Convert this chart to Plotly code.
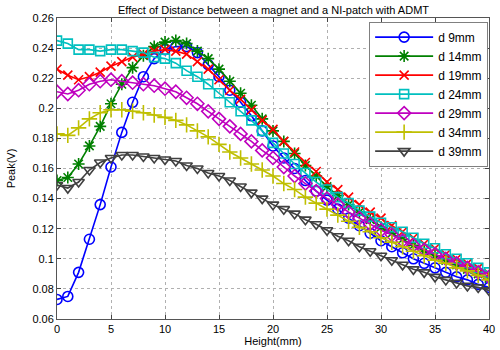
import plotly.graph_objects as go

height_mm = list(range(0, 41))

d9 = [0.073, 0.075, 0.091, 0.113, 0.136, 0.161, 0.184, 0.204, 0.221, 0.233,
      0.239, 0.241, 0.241, 0.237, 0.229, 0.221, 0.212, 0.204, 0.195, 0.185,
      0.175, 0.167, 0.160, 0.152, 0.145, 0.139, 0.133, 0.127, 0.122, 0.117,
      0.112, 0.108, 0.104, 0.100, 0.097, 0.094, 0.091, 0.088, 0.086, 0.083, 0.081]
d14 = [0.152, 0.154, 0.163, 0.175, 0.188, 0.203, 0.216, 0.227, 0.235, 0.241,
       0.244, 0.245, 0.243, 0.238, 0.233, 0.226, 0.218, 0.210, 0.202, 0.193,
       0.185, 0.178, 0.170, 0.162, 0.155, 0.148, 0.142, 0.136, 0.131, 0.126,
       0.121, 0.117, 0.113, 0.109, 0.105, 0.102, 0.099, 0.096, 0.093, 0.090, 0.087]
d19 = [0.226, 0.222, 0.219, 0.221, 0.224, 0.228, 0.231, 0.234, 0.236, 0.238,
       0.239, 0.238, 0.236, 0.231, 0.226, 0.219, 0.212, 0.206, 0.199, 0.192,
       0.186, 0.178, 0.171, 0.164, 0.158, 0.151, 0.146, 0.141, 0.136, 0.131,
       0.127, 0.122, 0.118, 0.114, 0.110, 0.107, 0.103, 0.100, 0.097, 0.094, 0.090]
d24 = [0.245, 0.243, 0.239, 0.239, 0.238, 0.239, 0.239, 0.238, 0.237, 0.234,
       0.233, 0.230, 0.225, 0.221, 0.216, 0.210, 0.204, 0.198, 0.192, 0.185,
       0.177, 0.170, 0.163, 0.157, 0.151, 0.146, 0.141, 0.137, 0.132, 0.128,
       0.124, 0.121, 0.118, 0.114, 0.110, 0.107, 0.103, 0.100, 0.097, 0.094, 0.091]
d29 = [0.211, 0.2095, 0.212, 0.216, 0.218, 0.219, 0.218, 0.217, 0.216, 0.215,
       0.213, 0.211, 0.207, 0.203, 0.198, 0.193, 0.188, 0.183, 0.178, 0.172,
       0.167, 0.161, 0.155, 0.150, 0.145, 0.140, 0.136, 0.131, 0.127, 0.123,
       0.119, 0.116, 0.112, 0.109, 0.106, 0.103, 0.100, 0.097, 0.094, 0.091, 0.088]
d34 = [0.183, 0.182, 0.187, 0.193, 0.197, 0.199, 0.199, 0.198, 0.197, 0.1955,
       0.194, 0.192, 0.189, 0.185, 0.181, 0.176, 0.171, 0.167, 0.163, 0.159,
       0.155, 0.150, 0.146, 0.141, 0.137, 0.133, 0.129, 0.125, 0.121, 0.118,
       0.114, 0.111, 0.108, 0.105, 0.102, 0.099, 0.097, 0.094, 0.092, 0.089, 0.086]
d39 = [0.149, 0.147, 0.151, 0.159, 0.164, 0.167, 0.169, 0.169, 0.168, 0.167,
       0.166, 0.165, 0.162, 0.160, 0.157, 0.155, 0.152, 0.148, 0.144, 0.140,
       0.136, 0.133, 0.130, 0.126, 0.123, 0.119, 0.115, 0.112, 0.108, 0.105,
       0.102, 0.099, 0.096, 0.093, 0.091, 0.088, 0.086, 0.084, 0.082, 0.081, 0.079]

series_names = ["d 9mm", "d 14mm", "d 19mm", "d 24mm", "d 29mm", "d 34mm", "d 39mm"]
series_values = [d9, d14, d19, d24, d29, d34, d39]
colors = ["#0000FF", "#008000", "#FF0000", "#00BFBF", "#BF00BF", "#BFBF00", "#404040"]
symbols = ["circle-open", "asterisk-open", "x-thin-open", "square-open",
           "diamond-open", "cross-thin-open", "triangle-down-open"]
sizes = [10, 10, 9, 9, 10, 11, 10]

x_ticks = [0, 5, 10, 15, 20, 25, 30, 35, 40]
y_ticks = [0.06, 0.08, 0.1, 0.12, 0.14, 0.16, 0.18, 0.2, 0.22, 0.24, 0.26]

fig = go.Figure()
for name, vals, c, s, sz in zip(series_names, series_values, colors, symbols, sizes):
    fig.add_trace(go.Scatter(
        x=height_mm, y=vals, name=name, mode="lines+markers",
        line=dict(color=c, width=1.6),
        marker=dict(symbol=s, size=sz, color=c, line=dict(color=c, width=1.6)),
    ))

font_family = "Liberation Sans, Arial, sans-serif"
fig.update_layout(
    width=500, height=350,
    margin=dict(l=57, r=11, t=18, b=31, autoexpand=False),
    paper_bgcolor="white", plot_bgcolor="white",
    font=dict(family=font_family, size=11, color="black"),
    legend=dict(x=0.998, xanchor="right", y=0.988, yanchor="top",
                bgcolor="white", bordercolor="#808080", borderwidth=1,
                font=dict(size=12), itemwidth=58, tracegroupgap=0),
    showlegend=True,
    hovermode=False,
    annotations=[dict(text="Effect of Distance between a magnet and a NI-patch with ADMT",
                      xref="paper", yref="paper", x=0.5, y=1 + 8 / 301,
                      xanchor="center", yanchor="middle", showarrow=False,
                      font=dict(size=11, color="black"))],
)
fig.update_xaxes(range=[0, 40], tickvals=x_ticks, ticks="inside", ticklen=4,
                 automargin=False,
                 showline=True, linecolor="#555555", linewidth=1, mirror="ticks",
                 showgrid=True, gridcolor="#b0b0b0", griddash="dot", gridwidth=1,
                 zeroline=False, title=dict(text="Height(mm)", standoff=1, font=dict(size=11)),
                 tickfont=dict(size=11))
fig.update_yaxes(range=[0.06, 0.26], tickvals=y_ticks, ticks="inside", ticklen=4,
                 automargin=False,
                 showline=True, linecolor="#555555", linewidth=1, mirror="ticks",
                 showgrid=True, gridcolor="#b0b0b0", griddash="dot", gridwidth=1,
                 zeroline=False, title=dict(text="Peak(V)", standoff=14, font=dict(size=11)),
                 tickfont=dict(size=11))

fig.write_html("out.html", config={"displayModeBar": False},
               post_script="document.body.style.margin='0';document.body.style.overflow='hidden';")
